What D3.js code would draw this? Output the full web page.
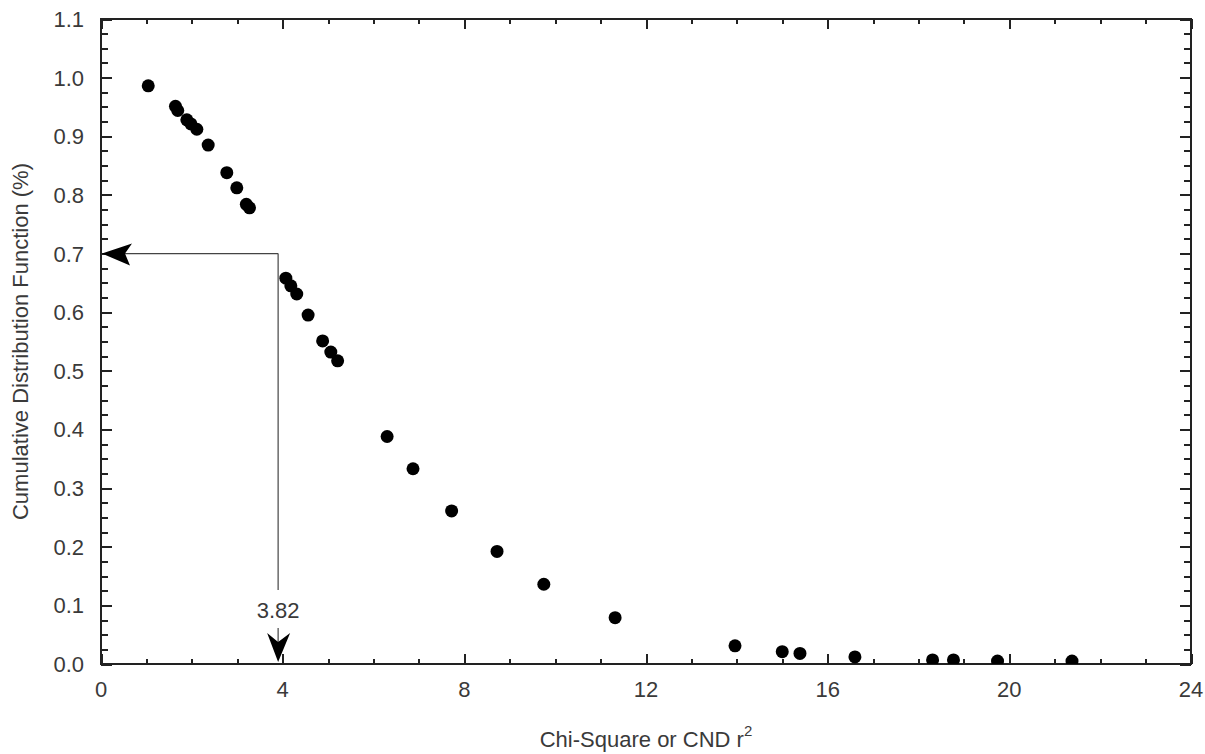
<!DOCTYPE html>
<html>
<head>
<meta charset="utf-8">
<script src="https://cdn.jsdelivr.net/npm/d3@7"></script>
<style>
  body { margin: 0; background: #fff; }
  text { font-family: "Liberation Sans", Arial, sans-serif; fill: #3a3a3a; }
</style>
</head>
<body>
<svg id="svg" width="1205" height="754"></svg>
<script>
// data
var chiSquare = [1.04, 1.64, 1.69, 1.89, 1.98, 2.11, 2.36, 2.77, 2.99, 3.20, 3.27,
  4.07, 4.18, 4.31, 4.56, 4.88, 5.06, 5.21, 6.30, 6.87, 7.72, 8.72, 9.75, 11.32,
  13.96, 15.00, 15.39, 16.60, 18.31, 18.77, 19.74, 21.38];
var cdf = [0.986, 0.951, 0.944, 0.928, 0.921, 0.912, 0.885, 0.838, 0.812, 0.784, 0.778,
  0.658, 0.645, 0.631, 0.595, 0.551, 0.532, 0.517, 0.388, 0.333, 0.261, 0.192, 0.136, 0.079,
  0.031, 0.021, 0.018, 0.012, 0.007, 0.007, 0.005, 0.005];
var xTicks = [0, 4, 8, 12, 16, 20, 24];
var yTicks = [0.0, 0.1, 0.2, 0.3, 0.4, 0.5, 0.6, 0.7, 0.8, 0.9, 1.0, 1.1];
var markX = 3.9;     // where the arrow is drawn
var markY = 0.7;
var markLabel = "3.82";

var margin = {left: 101, right: 14, top: 19, bottom: 90};
var width = 1205, height = 754;
var fs = 22;

var x = d3.scaleLinear().domain([0, 24]).range([margin.left, width - margin.right]);
var y = d3.scaleLinear().domain([0, 1.1]).range([height - margin.bottom, margin.top]);

var svg = d3.select("#svg");
var x0 = x.range()[0], x1 = x.range()[1], y0 = y.range()[0], y1 = y.range()[1];

svg.append("clipPath").attr("id", "plotclip")
  .append("rect")
  .attr("x", x0).attr("y", y1).attr("width", x1 - x0).attr("height", y0 - y1);

// minor ticks every 1 on x, every 0.025 on y
var xMinor = d3.range(0, 25, 1);
var yMinor = d3.range(0, 45).map(function(i) { return i * 0.025; });

function addAxis(axis, tr) {
  var g = svg.append("g").attr("transform", tr).call(axis);
  g.select(".domain").remove();
  g.selectAll(".tick line").attr("stroke", "#222").attr("stroke-width", 2)
    .attr("shape-rendering", "crispEdges");
  g.selectAll(".tick text").remove();
  return g;
}

// ticks pointing inward on all four sides
addAxis(d3.axisBottom(x).tickValues(xMinor).tickSize(-5), "translate(0," + y0 + ")");
addAxis(d3.axisBottom(x).tickValues(xTicks).tickSize(-10), "translate(0," + y0 + ")");
addAxis(d3.axisTop(x).tickValues(xMinor).tickSize(-5), "translate(0," + y1 + ")");
addAxis(d3.axisTop(x).tickValues(xTicks).tickSize(-10), "translate(0," + y1 + ")");
addAxis(d3.axisLeft(y).tickValues(yMinor).tickSize(-7), "translate(" + x0 + ",0)");
addAxis(d3.axisLeft(y).tickValues(yTicks).tickSize(-11), "translate(" + x0 + ",0)");
addAxis(d3.axisRight(y).tickValues(yMinor).tickSize(-7), "translate(" + x1 + ",0)");
addAxis(d3.axisRight(y).tickValues(yTicks).tickSize(-11), "translate(" + x1 + ",0)");

// tick labels
svg.append("g").selectAll("text").data(xTicks).enter().append("text")
  .attr("x", function(d) { return x(d); })
  .attr("y", y0 + 33)
  .attr("text-anchor", "middle")
  .attr("font-size", fs)
  .text(function(d) { return d; });

svg.append("g").selectAll("text").data(yTicks).enter().append("text")
  .attr("x", x0 - 17)
  .attr("y", function(d) { return y(d) + 8; })
  .attr("text-anchor", "end")
  .attr("font-size", fs)
  .text(function(d) { return d.toFixed(1); });

// frame
svg.append("rect")
  .attr("x", x0).attr("y", y1).attr("width", x1 - x0).attr("height", y0 - y1)
  .attr("fill", "none").attr("stroke", "#222").attr("stroke-width", 2)
  .attr("shape-rendering", "crispEdges");

// annotation arrows
var ax = x(markX), ay = y(markY);
var ann = svg.append("g").attr("stroke", "#444").attr("stroke-width", 1.2).attr("fill", "none");
ann.append("line").attr("x1", x0 + 24).attr("y1", ay).attr("x2", ax).attr("y2", ay);
ann.append("line").attr("x1", ax).attr("y1", ay).attr("x2", ax).attr("y2", y0 - 74);
ann.append("line").attr("x1", ax).attr("y1", y0 - 36).attr("x2", ax).attr("y2", y0 - 22);

svg.append("path")
  .attr("d", "M" + (x0 + 1) + "," + ay + " L" + (x0 + 31) + "," + (ay - 10) +
    " L" + (x0 + 24) + "," + ay + " L" + (x0 + 29) + "," + (ay + 12) + " Z")
  .attr("fill", "#000");
svg.append("path")
  .attr("d", "M" + ax + "," + (y0 - 2) + " L" + (ax - 11) + "," + (y0 - 31) +
    " L" + ax + "," + (y0 - 22) + " L" + (ax + 12) + "," + (y0 - 31) + " Z")
  .attr("fill", "#000");

svg.append("text")
  .attr("x", ax).attr("y", y0 - 46)
  .attr("text-anchor", "middle")
  .attr("font-size", fs)
  .text(markLabel);

// points
var pts = chiSquare.map(function(v, i) { return {x: v, y: cdf[i]}; });
svg.append("g").attr("clip-path", "url(#plotclip)")
  .selectAll("circle").data(pts).enter().append("circle")
  .attr("cx", function(d) { return x(d.x); })
  .attr("cy", function(d) { return y(d.y); })
  .attr("r", 6.5)
  .attr("fill", "#000");

// axis titles
var xt = svg.append("text")
  .attr("x", (x0 + x1) / 2).attr("y", 747)
  .attr("text-anchor", "middle")
  .attr("font-size", fs);
xt.append("tspan").text("Chi-Square or CND r");
xt.append("tspan").attr("dy", -11).attr("font-size", 15).text("2");

svg.append("text")
  .attr("transform", "translate(28," + ((y0 + y1) / 2) + ") rotate(-90)")
  .attr("text-anchor", "middle")
  .attr("font-size", fs)
  .text("Cumulative Distribution Function (%)");
</script>
</body>
</html>
